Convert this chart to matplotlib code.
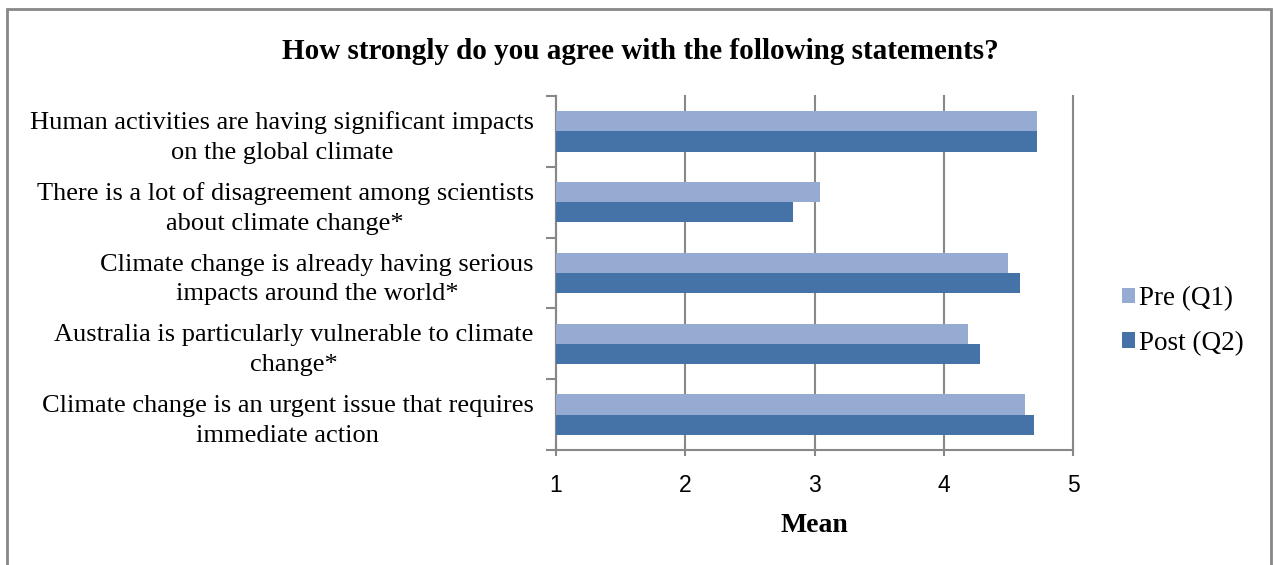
import matplotlib.pyplot as plt
from matplotlib.patches import Rectangle
import numpy as np

statements = ['Human activities are having significant impacts\non the global climate',
              'There is a lot of disagreement among scientists\nabout climate change*',
              'Climate change is already having serious\nimpacts around the world*',
              'Australia is particularly vulnerable to climate\nchange*',
              'Climate change is an urgent issue that requires\nimmediate action']
pre = [4.72, 3.04, 4.50, 4.19, 4.63]
post = [4.72, 2.83, 4.59, 4.28, 4.70]
series = ['Pre (Q1)', 'Post (Q2)']

serif = 'Liberation Serif'
fig = plt.figure(figsize=(12.73, 5.65), dpi=100)
ax = fig.add_axes([0.4368, 0.2035, 0.4061, 0.6265])

y = np.arange(len(statements))
h = 0.285
ax.barh(y - h / 2, [p - 1 for p in pre], h, left=1, color='#95abd2', label=series[0], zorder=3)
ax.barh(y + h / 2, [p - 1 for p in post], h, left=1, color='#4573a7', label=series[1], zorder=3)

ax.set_xlim(1, 5)
ax.set_ylim(len(statements) - 0.5, -0.5)
ax.set_xticks([1, 2, 3, 4, 5])
ax.set_xticklabels(['1', '2', '3', '4', '5'], fontsize=16.5, family='Liberation Sans')
ax.tick_params(axis='x', direction='inout', length=9, color='#888888', width=1.5, pad=13)
ax.set_yticks(np.arange(-0.5, len(statements)), labels=[''] * (len(statements) + 1))
ax.tick_params(axis='y', which='major', direction='out', length=7, color='#888888', width=1.5)
ax.set_yticks(y, minor=True)
ax.set_yticklabels(statements, minor=True, fontsize=19, family=serif,
                   multialignment='center', linespacing=1.45)
ax.tick_params(axis='y', which='minor', length=0, pad=16)
ax.grid(axis='x', color='#888888', linewidth=1.5, zorder=0)
for gl in ax.get_xgridlines():
    gl.set_clip_on(False)
for s in ['top', 'right']:
    ax.spines[s].set_visible(False)
for s in ['left', 'bottom']:
    ax.spines[s].set_color('#888888')
    ax.spines[s].set_linewidth(1.5)

ax.set_xlabel('Mean', fontsize=20, family=serif, fontweight='bold', labelpad=11)
fig.text(0.503, 0.908, 'How strongly do you agree with the following statements?',
         ha='center', va='center', fontsize=21, family=serif, fontweight='bold')

fig.legend(loc='center left', bbox_to_anchor=(0.881, 0.432), frameon=False,
           prop={'family': serif, 'size': 19.5}, handlelength=0.5, handleheight=0.5,
           handletextpad=0.15, labelspacing=0.72, borderaxespad=0, borderpad=0)

fig.patches.append(Rectangle((0.0055, -0.1), 0.993, 1.084, transform=fig.transFigure,
                             fill=False, edgecolor='#888888', linewidth=2))

fig.savefig('out.png', dpi=100)
